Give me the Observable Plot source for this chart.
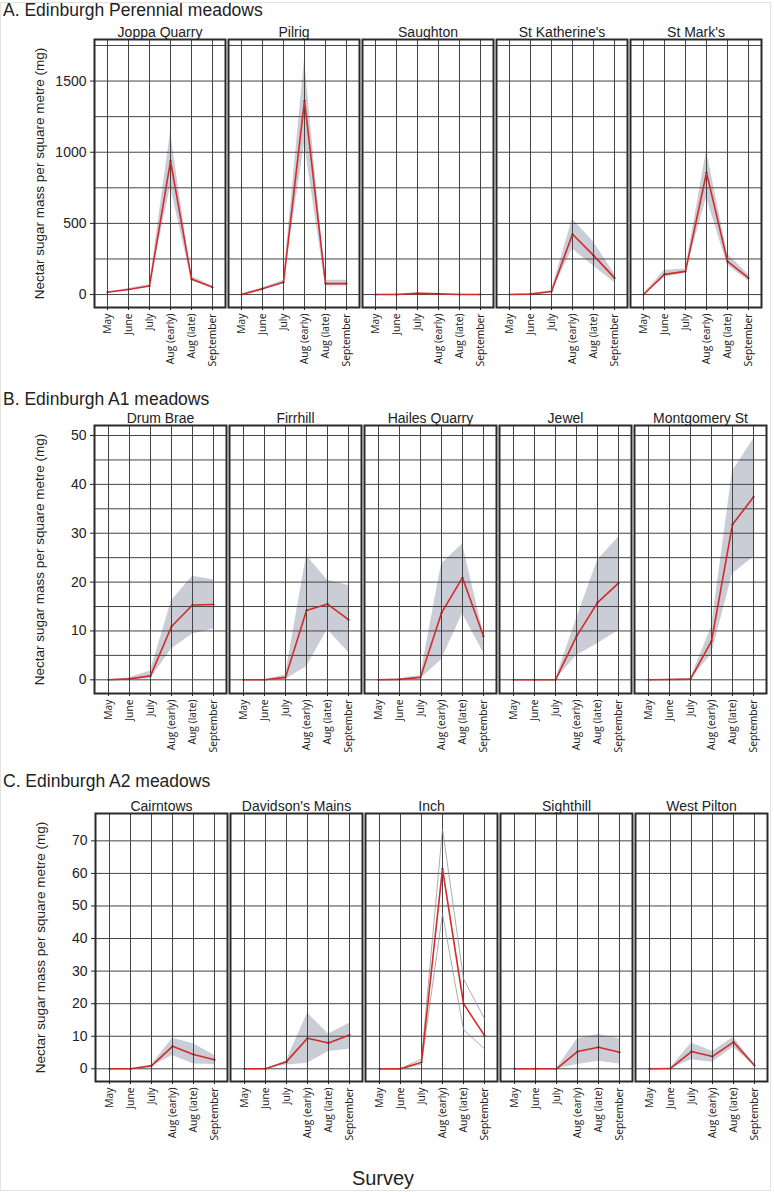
<!DOCTYPE html>
<html><head><meta charset="utf-8">
<script src="https://cdn.jsdelivr.net/npm/d3@7"></script>
<script src="https://cdn.jsdelivr.net/npm/@observablehq/plot@0.6"></script>
<style>
body{margin:0;background:#fff;font-family:"Liberation Sans",Arial,sans-serif;}
#root{position:relative;width:774px;height:1192px;overflow:hidden;}
#border{position:absolute;left:0;top:2px;width:769px;height:1187px;border:1px solid #e2e2e2;}
.title{position:absolute;left:3px;font-size:17.5px;color:#222;line-height:20px;white-space:nowrap;}
.row{position:absolute;left:0;}
#survey{position:absolute;top:1166px;left:0;width:766px;text-align:center;font-size:20px;line-height:24px;color:#222;}
</style></head><body><div id="root"><div id="border"></div></div>
<script>
const months = ["May","June","July","Aug (early)","Aug (late)","September"];
const yLabel = "Nectar sugar mass per square metre (mg)";
const xLabel = "Survey";
const rowTitles = ["A. Edinburgh Perennial meadows","B. Edinburgh A1 meadows","C. Edinburgh A2 meadows"];
const lineOnlyBandSites = ["Inch"];

// A. Perennial meadows
const perennialSites = ["Joppa Quarry","Pilrig","Saughton","St Katherine's","St Mark's"];
const perennialMean = [
  [16, 35, 60, 938, 110, 51],
  [0, 40, 86, 1362, 77, 77],
  [0, 0, 8, 5, 0, 0],
  [0, 3, 21, 424, 275, 117],
  [0, 142, 163, 857, 233, 117]
];
const perennialLow = [
  [12, 30, 52, 760, 95, 44],
  [0, 34, 74, 1060, 60, 60],
  [0, 0, 4, 2, 0, 0],
  [0, 1, 15, 320, 200, 85],
  [0, 120, 150, 680, 205, 95]
];
const perennialHigh = [
  [20, 42, 70, 1140, 128, 60],
  [3, 48, 100, 1650, 100, 100],
  [2, 2, 12, 8, 2, 2],
  [2, 6, 28, 530, 370, 145],
  [4, 170, 180, 1010, 285, 140]
];
const perennialGrid = [0,250,500,750,1000,1250,1500,1750];
const perennialTicks = [0,500,1000,1500];

// B. A1 meadows
const a1Sites = ["Drum Brae","Firrhill","Hailes Quarry","Jewel","Montgomery St"];
const a1Mean = [
  [0, 0.2, 0.8, 10.9, 15.3, 15.4],
  [0, 0, 0.5, 14.2, 15.5, 12.3],
  [0, 0.1, 0.5, 13.7, 20.9, 8.9],
  [0, 0, 0, 8.9, 15.8, 19.8],
  [0, 0.05, 0.15, 7.9, 31.8, 37.4]
];
const a1Low = [
  [0, 0, 0.2, 6.3, 9.4, 10.4],
  [0, 0, 0.1, 2.7, 10.3, 5.6],
  [0, 0, 0.2, 4.1, 13.5, 5.6],
  [0, 0, 0, 5.0, 7.4, 10.1],
  [0, 0, 0.05, 5.2, 21.7, 25.1]
];
const a1High = [
  [0, 0.4, 1.8, 16.2, 21.2, 20.5],
  [0, 0, 1.0, 25.4, 20.4, 19.3],
  [0, 0.2, 0.9, 23.7, 27.8, 9.5],
  [0, 0, 0, 12.5, 24.4, 29.2],
  [0, 0.1, 0.3, 10.8, 42.7, 49.3]
];
const a1Grid = [0,5,10,15,20,25,30,35,40,45,50];
const a1Ticks = [0,10,20,30,40,50];

// C. A2 meadows
const a2Sites = ["Cairntows","Davidson's Mains","Inch","Sighthill","West Pilton"];
const a2Mean = [
  [0, 0, 0.9, 6.9, 4.4, 2.8],
  [0, 0, 2.2, 9.4, 7.9, 10.4],
  [0, 0, 2.0, 61.4, 20.0, 10.2],
  [0, 0, 0, 5.3, 6.6, 5.1],
  [0, 0.1, 5.3, 3.8, 8.2, 1.0]
];
const a2Low = [
  [0, 0, 0.7, 4.1, 1.5, 1.3],
  [0, 0, 1.2, 1.7, 5.3, 6.0],
  [0, 0, 1.5, 47.6, 12.0, 6.1],
  [0, 0, 0, 1.3, 2.3, 1.5],
  [0, 0, 2.8, 2.0, 6.6, 0.7]
];
const a2High = [
  [0, 0, 1.2, 9.4, 7.7, 4.1],
  [0, 0, 2.5, 17.1, 10.7, 14.0],
  [0, 0, 3.0, 73.7, 27.6, 15.4],
  [0, 0, 0, 9.2, 10.5, 9.2],
  [0, 0.3, 7.9, 5.3, 9.7, 1.3]
];
const a2Grid = [0,10,20,30,40,50,60,70];
const a2Ticks = [0,10,20,30,40,50,60,70];

function makeRow({sites, mean, low, high, domain, grid, ticks, marginRight}) {
  const rows = sites.flatMap((site, i) => months.map((month, j) => ({site, month, mean: mean[i][j], low: low[i][j], high: high[i][j]})));
  const filled = rows.filter(d => !lineOnlyBandSites.includes(d.site));
  const outlined = rows.filter(d => lineOnlyBandSites.includes(d.site));
  return Plot.plot({
    width: 774, height: 357, marginTop: 19, marginBottom: 70, marginLeft: 93, marginRight,
    style: {fontFamily: "Liberation Sans, Arial, sans-serif", color: "#222", background: "transparent"},
    fx: {domain: sites, paddingInner: 0.02, paddingOuter: 0, label: null},
    x: {type: "point", domain: months, padding: 0.58, label: null},
    y: {domain, label: yLabel},
    marks: [
      Plot.areaY(filled, {fx: "site", x: "month", y1: "low", y2: "high", fill: "#cacdd6"}),
      Plot.gridY(grid, {stroke: "#444", strokeOpacity: 1}),
      Plot.gridX(months, {stroke: "#444", strokeOpacity: 1}),
      Plot.lineY(outlined, {fx: "site", x: "month", y: "low", stroke: "#888", strokeWidth: 0.7}),
      Plot.lineY(outlined, {fx: "site", x: "month", y: "high", stroke: "#888", strokeWidth: 0.7}),
      Plot.lineY(rows, {fx: "site", x: "month", y: "mean", stroke: "#d42a2a", strokeWidth: 1.6}),
      Plot.dot(rows, {fx: "site", x: "month", y: "mean", r: 1, fill: "#333"}),
      Plot.frame({stroke: "#2a2a2a", strokeWidth: 2}),
      Plot.axisFx({anchor: "top", label: null, tickSize: 0, tickPadding: 3, fontSize: 14}),
      Plot.axisX({anchor: "bottom", label: null, tickRotate: -90, tickSize: 3, tickPadding: 3, fontSize: 10.3, fontFamily: "Open Sans"}),
      Plot.axisY(ticks, {label: yLabel, labelAnchor: "center", labelArrow: "none", labelOffset: 60, tickSize: 4, tickPadding: 4, fontSize: 14, tickFormat: d => String(d)})
    ]
  });
}

const root = document.getElementById("root");
const layout = [
  {titleTop: 0, svgTop: 20, cfg: {sites: perennialSites, mean: perennialMean, low: perennialLow, high: perennialHigh, domain: [-91, 1792], grid: perennialGrid, ticks: perennialTicks, marginRight: 11}},
  {titleTop: 389, svgTop: 406, cfg: {sites: a1Sites, mean: a1Mean, low: a1Low, high: a1High, domain: [-2.8, 52.05], grid: a1Grid, ticks: a1Ticks, marginRight: 6}},
  {titleTop: 771, svgTop: 794, cfg: {sites: a2Sites, mean: a2Mean, low: a2Low, high: a2High, domain: [-3.9, 78.4], grid: a2Grid, ticks: a2Ticks, marginRight: 5}}
];
layout.forEach((L, i) => {
  const t = document.createElement("div");
  t.className = "title"; t.style.top = L.titleTop + "px"; t.textContent = rowTitles[i];
  root.appendChild(t);
  const w = document.createElement("div");
  w.className = "row"; w.style.top = L.svgTop + "px";
  const svg = makeRow(L.cfg);
  svg.querySelectorAll("text").forEach(el => {
    if (el.textContent === yLabel) el.setAttribute("font-size", "13.5");
  });
  w.appendChild(svg);
  root.appendChild(w);
});
const s = document.createElement("div");
s.id = "survey"; s.textContent = xLabel;
root.appendChild(s);
</script>
</body></html>
